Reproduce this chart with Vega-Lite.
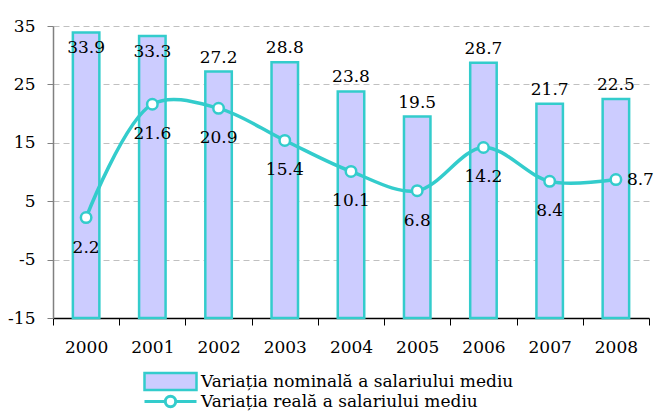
{
  "$schema": "https://vega.github.io/schema/vega-lite/v6.json",
  "autosize": "none",
  "width": 596,
  "height": 292,
  "padding": {"left": 53, "top": 26, "right": 7, "bottom": 93},
  "background": "white",
  "config": {
    "view": {"stroke": null},
    "font": "DejaVu Serif",
    "text": {"font": "DejaVu Serif"},
    "axis": {"labelFont": "DejaVu Serif", "labelFontSize": 17, "labelColor": "black", "title": null},
    "legend": {"labelFont": "DejaVu Serif", "labelFontSize": 17, "labelColor": "black", "padding": 0, "labelLimit": 0}
  },
  "data": {
    "values": [
      {"year": "2000", "nominal": 33.9, "real": 2.2},
      {"year": "2001", "nominal": 33.3, "real": 21.6},
      {"year": "2002", "nominal": 27.2, "real": 20.9},
      {"year": "2003", "nominal": 28.8, "real": 15.4},
      {"year": "2004", "nominal": 23.8, "real": 10.1},
      {"year": "2005", "nominal": 19.5, "real": 6.8},
      {"year": "2006", "nominal": 28.7, "real": 14.2},
      {"year": "2007", "nominal": 21.7, "real": 8.4},
      {"year": "2008", "nominal": 22.5, "real": 8.7}
    ]
  },
  "encoding": {
    "x": {
      "field": "year", "type": "ordinal",
      "scale": {"paddingInner": 0, "paddingOuter": 0},
      "axis": {"labelAngle": 0, "tickBand": "extent", "domainColor": "black", "tickColor": "black", "tickSize": 7, "labelPadding": 14, "grid": false, "domainWidth": 1.5}
    }
  },
  "layer": [
    {
      "mark": {"type": "bar", "width": {"band": 0.4}, "stroke": "#33CCCC", "strokeWidth": 2.5},
      "encoding": {
        "y": {
          "field": "nominal", "type": "quantitative",
          "scale": {"domain": [-15, 35], "nice": false, "zero": false},
          "axis": {"values": [-15, -5, 5, 15, 25, 35], "labelExpr": "'' + datum.value", "grid": true, "gridColor": "#C0C0C0", "gridDash": [6, 4], "domainColor": "#808080", "tickColor": "#808080", "tickSize": 6, "labelPadding": 12, "domainWidth": 1.5}
        },
        "y2": {"datum": -15},
        "fill": {
          "datum": "Variația nominală a salariului mediu", "type": "nominal",
          "scale": {"range": ["#CCCCFF"]},
          "legend": {
            "title": null, "orient": "none", "legendX": 90, "legendY": 328,
            "symbolType": "M-1,-0.33H1V0.33H-1Z", "symbolSize": 2704,
            "symbolStrokeColor": "#33CCCC", "symbolStrokeWidth": 2.5, "labelOffset": 3
          }
        }
      }
    },
    {
      "transform": [{"filter": "datum.nominal > 30"}],
      "mark": {"type": "text", "fontSize": 17, "dy": 16, "baseline": "middle", "color": "black"},
      "encoding": {"y": {"field": "nominal", "type": "quantitative"}, "text": {"field": "nominal", "type": "quantitative", "format": ".1f"}}
    },
    {
      "transform": [{"filter": "datum.nominal <= 30"}],
      "mark": {"type": "text", "fontSize": 17, "dy": -14, "baseline": "middle", "color": "black"},
      "encoding": {"y": {"field": "nominal", "type": "quantitative"}, "text": {"field": "nominal", "type": "quantitative", "format": ".1f"}}
    },
    {
      "mark": {"type": "line", "interpolate": "catmull-rom", "strokeWidth": 3.5},
      "encoding": {
        "y": {"field": "real", "type": "quantitative"},
        "stroke": {
          "datum": "Variația reală a salariului mediu", "type": "nominal",
          "scale": {"range": ["#33CCCC"]},
          "legend": {
            "title": null, "orient": "none", "legendX": 90, "legendY": 348,
            "symbolType": "M-1,0H-0.2M0.2,0H1M0.2,0A0.2,0.2,0,1,1,-0.2,0A0.2,0.2,0,1,1,0.2,0",
            "symbolSize": 2704, "symbolFillColor": "white", "symbolStrokeWidth": 3, "labelOffset": 3
          }
        }
      }
    },
    {
      "mark": {"type": "point", "shape": "circle", "filled": true, "fill": "white", "stroke": "#33CCCC", "strokeWidth": 2.5, "size": 110, "opacity": 1},
      "encoding": {"y": {"field": "real", "type": "quantitative"}}
    },
    {
      "transform": [{"filter": "datum.year != '2008'"}],
      "mark": {"type": "text", "fontSize": 17, "dy": 30, "baseline": "middle", "color": "black"},
      "encoding": {"y": {"field": "real", "type": "quantitative"}, "text": {"field": "real", "type": "quantitative", "format": ".1f"}}
    },
    {
      "transform": [{"filter": "datum.year == '2008'"}],
      "mark": {"type": "text", "fontSize": 17, "dx": 11, "align": "left", "baseline": "middle", "color": "black"},
      "encoding": {"y": {"field": "real", "type": "quantitative"}, "text": {"field": "real", "type": "quantitative", "format": ".1f"}}
    }
  ]
}
